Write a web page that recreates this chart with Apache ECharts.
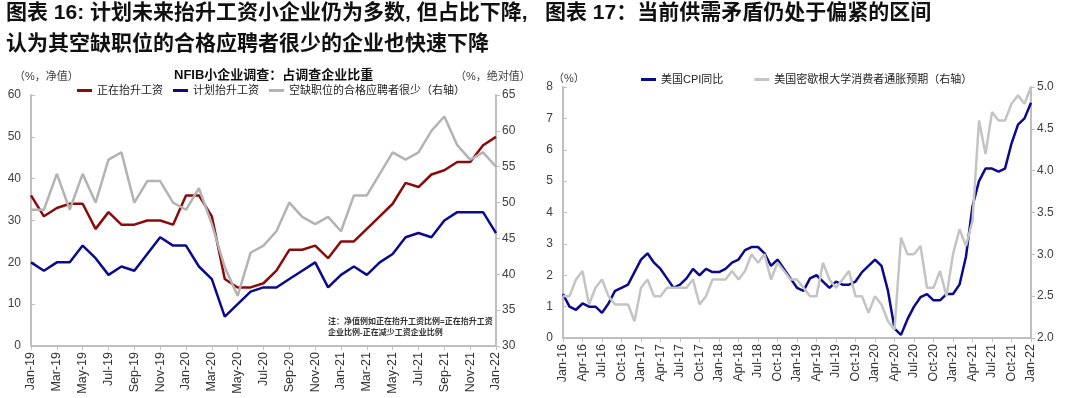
<!DOCTYPE html>
<html lang="zh-CN">
<head>
<meta charset="UTF-8">
<title>图表 16 / 图表 17</title>
<script src="https://cdn.jsdelivr.net/npm/echarts@6/dist/echarts.min.js"></script>
<style>
  html, body { margin: 0; padding: 0; background: #fff; }
  #main { width: 1080px; height: 398px; }
</style>
</head>
<body>
<div id="main"></div>
<script>
  // ---- 图表16 数据 (NFIB) ----
  const nfibMonths = ['Jan-19','Feb-19','Mar-19','Apr-19','May-19','Jun-19','Jul-19','Aug-19','Sep-19','Oct-19','Nov-19','Dec-19',
    'Jan-20','Feb-20','Mar-20','Apr-20','May-20','Jun-20','Jul-20','Aug-20','Sep-20','Oct-20','Nov-20','Dec-20',
    'Jan-21','Feb-21','Mar-21','Apr-21','May-21','Jun-21','Jul-21','Aug-21','Sep-21','Oct-21','Nov-21','Dec-21','Jan-22'];
  const raisingComp = [36,31,33,34,34,28,32,29,29,30,30,29,36,36,31,16,14,14,15,18,23,23,24,21,25,25,28,31,34,39,38,41,42,44,44,48,50];
  const planComp = [20,18,20,20,24,21,17,19,18,22,26,24,24,19,16,7,10,13,14,14,16,18,20,14,17,19,17,20,22,26,27,26,30,32,32,32,27];
  const fewQualified = [49,49,54,49,54,50,56,57,50,53,53,50,49,52,47,41,37,43,44,46,50,48,47,48,46,51,51,54,57,56,57,60,62,58,56,57,55];

  // ---- 图表17 数据 ----
  const cpiMonths = ['Jan-16','Feb-16','Mar-16','Apr-16','May-16','Jun-16','Jul-16','Aug-16','Sep-16','Oct-16','Nov-16','Dec-16',
    'Jan-17','Feb-17','Mar-17','Apr-17','May-17','Jun-17','Jul-17','Aug-17','Sep-17','Oct-17','Nov-17','Dec-17',
    'Jan-18','Feb-18','Mar-18','Apr-18','May-18','Jun-18','Jul-18','Aug-18','Sep-18','Oct-18','Nov-18','Dec-18',
    'Jan-19','Feb-19','Mar-19','Apr-19','May-19','Jun-19','Jul-19','Aug-19','Sep-19','Oct-19','Nov-19','Dec-19',
    'Jan-20','Feb-20','Mar-20','Apr-20','May-20','Jun-20','Jul-20','Aug-20','Sep-20','Oct-20','Nov-20','Dec-20',
    'Jan-21','Feb-21','Mar-21','Apr-21','May-21','Jun-21','Jul-21','Aug-21','Sep-21','Oct-21','Nov-21','Dec-21','Jan-22'];
  const usCpi = [1.4,1.0,0.9,1.1,1.0,1.0,0.8,1.1,1.5,1.6,1.7,2.1,
    2.5,2.7,2.4,2.2,1.9,1.6,1.7,1.9,2.2,2.0,2.2,2.1,
    2.1,2.2,2.4,2.5,2.8,2.9,2.9,2.7,2.3,2.5,2.2,1.9,
    1.6,1.5,1.9,2.0,1.8,1.6,1.8,1.7,1.7,1.8,2.1,2.3,
    2.5,2.3,1.5,0.3,0.1,0.6,1.0,1.3,1.4,1.2,1.2,1.4,
    1.4,1.7,2.6,4.2,5.0,5.4,5.4,5.3,5.4,6.2,6.8,7.0,7.5];
  const michiganExp = [2.5,2.5,2.7,2.8,2.4,2.6,2.7,2.5,2.4,2.4,2.4,2.2,
    2.6,2.7,2.5,2.5,2.6,2.6,2.6,2.6,2.7,2.4,2.5,2.7,
    2.7,2.7,2.8,2.7,2.8,3.0,2.9,3.0,2.7,2.9,2.8,2.7,
    2.7,2.6,2.5,2.5,2.9,2.7,2.6,2.7,2.8,2.5,2.5,2.3,
    2.5,2.4,2.2,2.1,3.2,3.0,3.0,3.1,2.6,2.6,2.8,2.5,
    3.0,3.3,3.1,3.4,4.6,4.2,4.7,4.6,4.6,4.8,4.9,4.8,5.0];

  const FONT = '"Liberation Sans", Arial, "Noto Sans CJK SC", sans-serif';
  const axisGray = '#bfbfbf';
  const labelColor = '#404040';

  const chart = echarts.init(document.getElementById('main'), null, { renderer: 'canvas' });

  function valueAxis(gridIndex, pos, min, max, step, tickInside, digits) {
    return {
      type: 'value', gridIndex: gridIndex, position: pos,
      min: min, max: max, interval: step,
      splitLine: { show: false },
      axisLine: { show: true, lineStyle: { color: axisGray, width: 2 } },
      axisTick: { show: true, inside: tickInside, length: 4, lineStyle: { color: axisGray, width: 1 } },
      axisLabel: {
        color: labelColor, fontSize: 12, fontFamily: FONT, margin: pos === 'left' ? 10 : 6,
        formatter: v => digits ? v.toFixed(digits) : String(v)
      }
    };
  }

  function catAxis(gridIndex, data, every) {
    return {
      type: 'category', gridIndex: gridIndex, data: data, boundaryGap: false,
      axisLine: { show: true, lineStyle: { color: axisGray, width: 2 } },
      axisTick: { show: true, interval: every - 1, length: 4, lineStyle: { color: axisGray } },
      axisLabel: {
        interval: every - 1, rotate: 90, color: '#333',
        fontSize: 12.5, fontFamily: FONT, margin: 6
      }
    };
  }

  function line(name, data, color, xi, yi, width) {
    return {
      name: name, type: 'line', data: data,
      xAxisIndex: xi, yAxisIndex: yi,
      symbol: 'none', smooth: false,
      lineStyle: { color: color, width: width },
      itemStyle: { color: color },
      emphasis: { disabled: true }
    };
  }

  const option = {
    backgroundColor: '#fff',
    animation: false,
    textStyle: { fontFamily: FONT },
    grid: [
      { left: 31, top: 95, width: 465, height: 251 },
      { left: 563, top: 87, width: 468, height: 251 }
    ],
    legend: [
      {
        left: 77, top: 85, padding: 0, icon: 'rect', itemWidth: 15, itemHeight: 3, itemGap: 10,
        textStyle: { fontSize: 11, color: '#222', fontFamily: FONT },
        data: ['正在抬升工资', '计划抬升工资', '空缺职位的合格应聘者很少（右轴）']
      },
      {
        left: 641, top: 74, padding: 0, icon: 'rect', itemWidth: 15, itemHeight: 3, itemGap: 31,
        textStyle: { fontSize: 11, color: '#222', fontFamily: FONT },
        data: ['美国CPI同比', '美国密歇根大学消费者通胀预期（右轴）']
      }
    ],
    xAxis: [
      catAxis(0, nfibMonths, 2),
      catAxis(1, cpiMonths, 3)
    ],
    yAxis: [
      valueAxis(0, 'left', 0, 60, 10, true, 0),
      valueAxis(0, 'right', 30, 65, 5, false, 0),
      valueAxis(1, 'left', 0, 8, 1, true, 0),
      valueAxis(1, 'right', 2, 5, 0.5, false, 1)
    ],
    series: [
      line('正在抬升工资', raisingComp, '#8b0a0a', 0, 0, 2.5),
      line('计划抬升工资', planComp, '#0a0a8c', 0, 0, 2.5),
      line('空缺职位的合格应聘者很少（右轴）', fewQualified, '#b3b3b3', 0, 1, 2.5),
      line('美国CPI同比', usCpi, '#0a0a8c', 1, 2, 2.5),
      line('美国密歇根大学消费者通胀预期（右轴）', michiganExp, '#c4c4c4', 1, 3, 2.5)
    ],
    graphic: [
      { type: 'text', left: 6, top: 3, style: { text: '图表 16: 计划未来抬升工资小企业仍为多数, 但占比下降,', fontSize: 21, fontWeight: 'bold', fill: '#111', fontFamily: FONT } },
      { type: 'text', left: 6, top: 34, style: { text: '认为其空缺职位的合格应聘者很少的企业也快速下降', fontSize: 21, fontWeight: 'bold', fill: '#111', fontFamily: FONT } },
      { type: 'text', left: 545, top: 3, style: { text: '图表 17：当前供需矛盾仍处于偏紧的区间', fontSize: 21, fontWeight: 'bold', fill: '#111', fontFamily: FONT } },
      { type: 'text', left: 174, top: 69, style: { text: 'NFIB小企业调查：占调查企业比重', fontSize: 13, fontWeight: 'bold', fill: '#111', fontFamily: FONT } },
      { type: 'text', left: 14, top: 71, style: { text: '（%，净值）', fontSize: 11, fill: '#404040', fontFamily: FONT } },
      { type: 'text', left: 455, top: 71, style: { text: '（%，绝对值）', fontSize: 11, fill: '#404040', fontFamily: FONT } },
      { type: 'text', left: 553, top: 73, style: { text: '（%）', fontSize: 11, fill: '#404040', fontFamily: FONT } },
      { type: 'text', left: 328, top: 316, style: { text: '注：净值例如正在抬升工资比例=正在抬升工资\n企业比例-正在减少工资企业比例', fontSize: 8, lineHeight: 11, fontWeight: 'bold', fill: '#333', fontFamily: FONT } }
    ]
  };

  chart.setOption(option);
</script>
</body>
</html>
